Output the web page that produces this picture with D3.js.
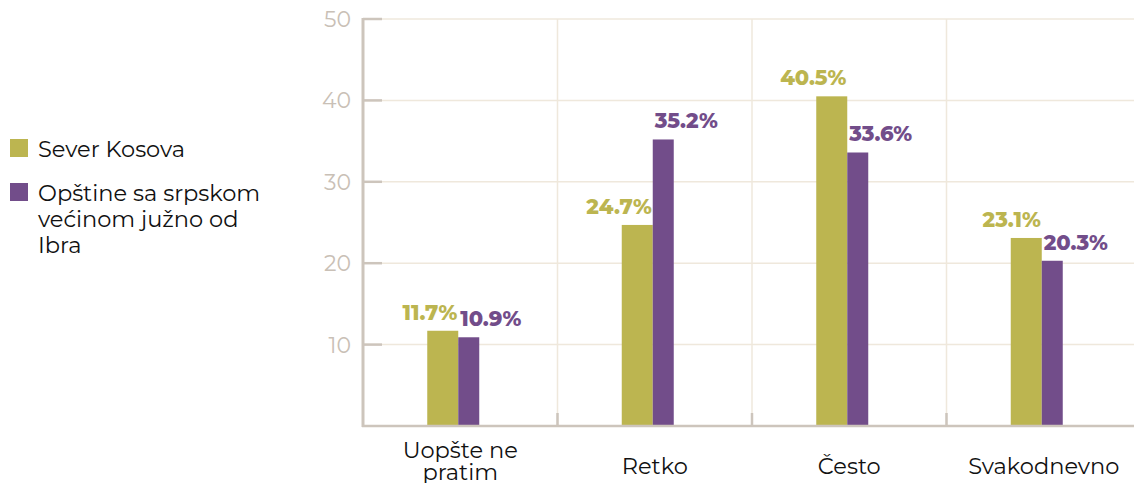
<!DOCTYPE html>
<html>
<head>
<meta charset="utf-8">
<script src="https://cdn.jsdelivr.net/npm/d3@7"></script>
<style>
body { margin: 0; background: #fff; }
text { font-family: Montserrat, 'DejaVu Sans', sans-serif; }
</style>
</head>
<body>
<div id="chart"></div>
<script>
var categories = [['Uopšte ne', 'pratim'], ['Retko'], ['Često'], ['Svakodnevno']]
var seriesNames = ['Sever Kosova', 'Opštine sa srpskom većinom južno od Ibra']
var legendLines = [['Sever Kosova'], ['Opštine sa srpskom', 'većinom južno od', 'Ibra']]
var sever = [11.7, 24.7, 40.5, 23.1]
var juzno = [10.9, 35.2, 33.6, 20.3]
var yTicks = [10, 20, 30, 40, 50]
var colors = ['#bcb550', '#724d8a']

var W = 1134, H = 483
var axisCol = '#cdc5bc', gridCol = '#efe8dc'

var svg = d3.select('#chart').append('svg')
	.attr('width', W).attr('height', H)

var keys = categories.map(c => c.join(' '))
var x = d3.scaleBand().domain(keys).range([363, 1141])
var y = d3.scaleLinear().domain([0, 50]).range([426, 19])

// grid
var grid = svg.append('g')
grid.selectAll('line.h').data(yTicks).join('line')
	.attr('x1', 363).attr('x2', W)
	.attr('y1', d => y(d)).attr('y2', d => y(d))
	.attr('stroke', gridCol).attr('stroke-width', 1.5)
grid.selectAll('line.v').data(keys.slice(1)).join('line')
	.attr('x1', d => x(d)).attr('x2', d => x(d))
	.attr('y1', y(50)).attr('y2', y(0))
	.attr('stroke', gridCol).attr('stroke-width', 1.5)

// bars
var wG = 31, wP = 21
var junction = k => x(k) + x.bandwidth() / 2 - 2
var bars = svg.append('g')
bars.selectAll('rect.g').data(sever).join('rect')
	.attr('x', (d, i) => junction(keys[i]) - wG)
	.attr('width', wG)
	.attr('y', d => y(d)).attr('height', d => y(0) - y(d))
	.attr('fill', colors[0])
bars.selectAll('rect.p').data(juzno).join('rect')
	.attr('x', (d, i) => junction(keys[i]))
	.attr('width', wP)
	.attr('y', d => y(d)).attr('height', d => y(0) - y(d) + 1)
	.attr('fill', colors[1])

// value labels
var lab = svg.append('g').style('font-weight', 800).style('font-size', '21px')
lab.selectAll('text.g').data(sever).join('text')
	.attr('x', (d, i) => junction(keys[i]) - 1)
	.attr('y', d => y(d) - 11)
	.attr('text-anchor', 'end')
	.attr('fill', colors[0])
	.text(d => d.toFixed(1) + '%')
lab.selectAll('text.p').data(juzno).join('text')
	.attr('x', (d, i) => junction(keys[i]) + 2)
	.attr('y', d => y(d) - 11)
	.attr('text-anchor', 'start')
	.attr('fill', colors[1])
	.text(d => d.toFixed(1) + '%')

// y axis
var ya = svg.append('g')
ya.append('line').attr('x1', 363).attr('x2', 363).attr('y1', y(50) - 1).attr('y2', y(0) + 1)
	.attr('stroke', axisCol).attr('stroke-width', 3)
ya.selectAll('line.t').data(yTicks).join('line')
	.attr('x1', 363).attr('x2', 382)
	.attr('y1', d => y(d)).attr('y2', d => y(d))
	.attr('stroke', axisCol).attr('stroke-width', 2.5)
ya.selectAll('text').data(yTicks).join('text')
	.attr('x', 351).attr('y', d => y(d) + 8)
	.attr('text-anchor', 'end')
	.attr('fill', '#c9c0b6')
	.style('font-size', '22px')
	.text(d => d)

// x axis
var xa = svg.append('g')
xa.append('line').attr('x1', 362).attr('x2', W).attr('y1', y(0)).attr('y2', y(0))
	.attr('stroke', axisCol).attr('stroke-width', 2.5)
xa.selectAll('line.t').data(keys.slice(1)).join('line')
	.attr('x1', d => x(d)).attr('x2', d => x(d))
	.attr('y1', y(0)).attr('y2', y(0) - 13)
	.attr('stroke', axisCol).attr('stroke-width', 2.5)
xa.selectAll('text').data(categories).join('text')
	.attr('x', (d, i) => x(keys[i]) + x.bandwidth() / 2)
	.attr('y', d => d.length > 1 ? 458 : 474)
	.attr('text-anchor', 'middle')
	.attr('fill', '#111')
	.style('font-size', '22.5px')
	.each(function(d) {
		var t = d3.select(this)
		d.forEach((s, j) => t.append('tspan')
			.attr('x', t.attr('x')).attr('dy', j ? 22 : 0).text(s))
	})

// legend
var leg = svg.append('g')
var legY = [148, 192]
leg.selectAll('rect').data(seriesNames).join('rect')
	.attr('x', 10).attr('y', (d, i) => legY[i] - 9)
	.attr('width', 18).attr('height', 18)
	.attr('fill', (d, i) => colors[i])
leg.selectAll('text').data(legendLines).join('text')
	.attr('x', 38).attr('y', (d, i) => legY[i] + 9)
	.attr('fill', '#111')
	.style('font-size', '22.5px')
	.each(function(d) {
		var t = d3.select(this)
		d.forEach((s, j) => t.append('tspan')
			.attr('x', 38).attr('dy', j ? 26 : 0).text(s))
	})
</script>
</body>
</html>
